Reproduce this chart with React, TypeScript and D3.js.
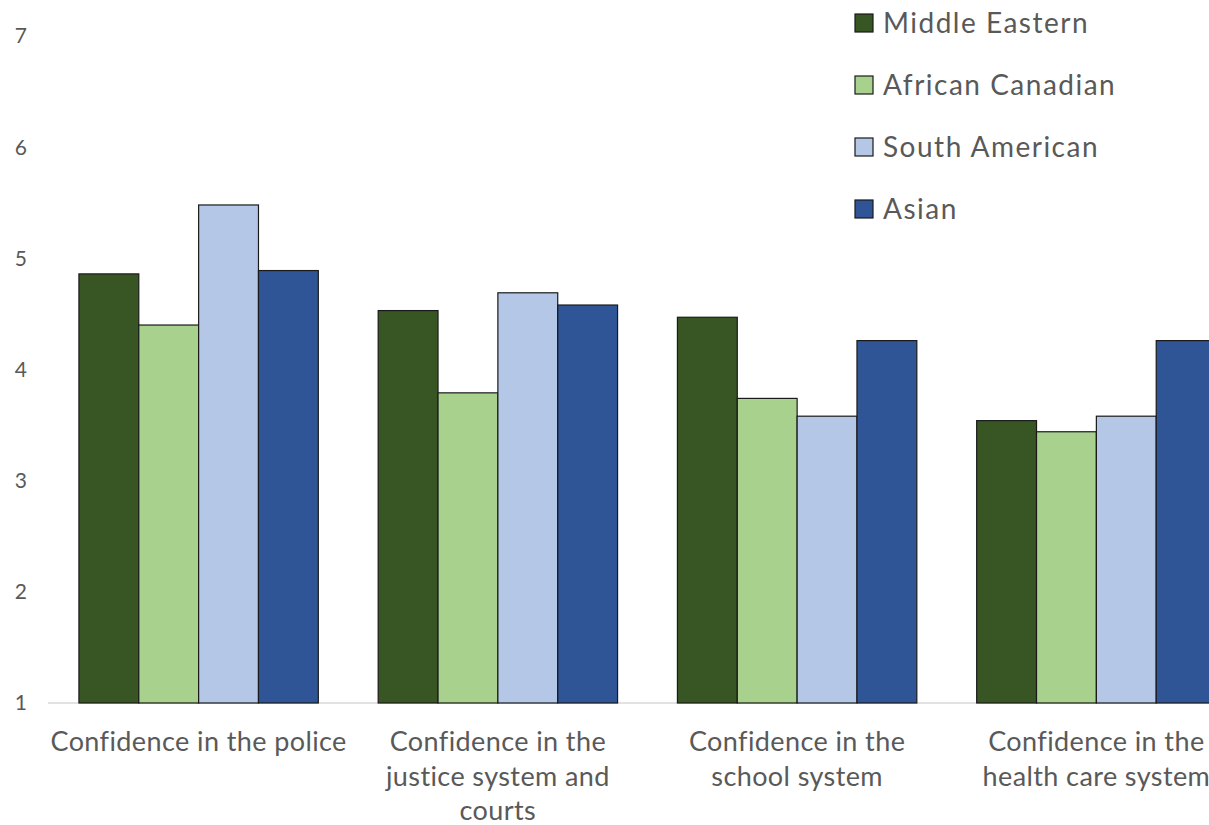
import React from "react";
import * as d3 from "d3";

const categories: string[][] = [
  ["Confidence in the police"],
  ["Confidence in the", "justice system and", "courts"],
  ["Confidence in the", "school system"],
  ["Confidence in the", "health care system"],
];
const seriesNames = ["Middle Eastern", "African Canadian", "South American", "Asian"];
const seriesColors = ["#375623", "#A9D18E", "#B4C7E7", "#2F5597"];
const middleEastern = [4.86, 4.53, 4.47, 3.54];
const africanCanadian = [4.4, 3.79, 3.74, 3.44];
const southAmerican = [5.48, 4.69, 3.58, 3.58];
const asian = [4.89, 4.58, 4.26, 4.26];
const yTicks = [1, 2, 3, 4, 5, 6, 7];

const W = 1209;
const H = 825;
const FONT = "Lato, 'Open Sans', sans-serif";
const TEXT = "#595959";

export default function App() {
  const series = [middleEastern, africanCanadian, southAmerican, asian];
  const catKeys = categories.map((c) => c.join(" "));
  const x = d3.scaleBand<string>().domain(catKeys).range([49, 1246]).paddingInner(0.2).paddingOuter(0.1);
  const xs = d3.scaleBand<string>().domain(seriesNames).range([0, x.bandwidth()]).padding(0);
  const y = d3.scaleLinear().domain([1, 7]).range([703, 36]);

  return (
    <svg width={W} height={H} style={{ position: "absolute", left: 0, top: 0, background: "#fff" }} fontFamily={FONT}>
      <rect x={0} y={0} width={W} height={H} fill="#fff" />
      {yTicks.map((t) => (
        <text key={t} x={27} y={y(t)} dy="0.35em" textAnchor="end" fontSize={21} fill={TEXT}>
          {t}
        </text>
      ))}
      <line x1={48} x2={W} y1={y(1)} y2={y(1)} stroke="#D9D9D9" strokeWidth={1.5} />
      {catKeys.map((k, ci) => (
        <g key={k} transform={`translate(${x(k)},0)`}>
          {seriesNames.map((s, si) => (
            <rect
              key={s}
              x={xs(s)}
              y={y(series[si][ci])}
              width={xs.bandwidth()}
              height={y(1) - y(series[si][ci])}
              fill={seriesColors[si]}
              stroke="#1a1a1a"
              strokeWidth={1.2}
            />
          ))}
          {categories[ci].map((line, li) => (
            <text
              key={li}
              x={x.bandwidth() / 2}
              y={742 + li * 34.5}
              dy="0.35em"
              textAnchor="middle"
              fontSize={27}
              letterSpacing={0.4}
              fill={TEXT}
            >
              {line}
            </text>
          ))}
        </g>
      ))}
      {seriesNames.map((s, i) => (
        <g key={s} transform={`translate(855,${23 + i * 62})`}>
          <rect x={0} y={-9} width={18} height={18} fill={seriesColors[i]} stroke="#1a1a1a" strokeWidth={1.2} />
          <text x={28} y={0} dy="0.35em" fontSize={28} letterSpacing={1.5} fill={TEXT}>
            {s}
          </text>
        </g>
      ))}
    </svg>
  );
}
